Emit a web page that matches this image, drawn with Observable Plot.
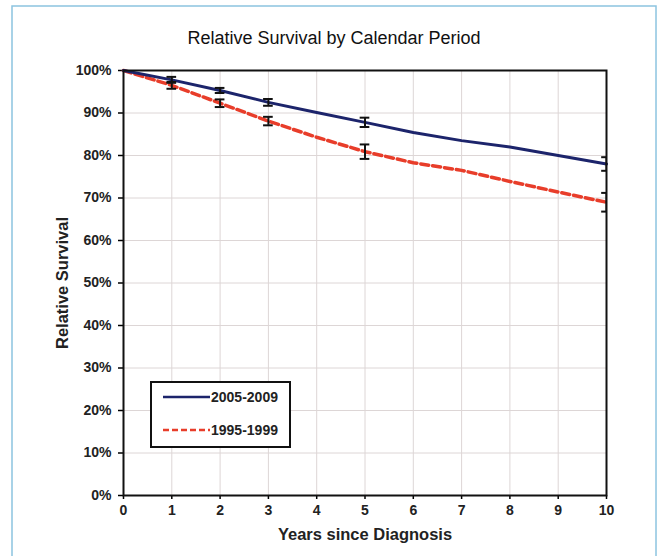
<!DOCTYPE html>
<html><head><meta charset="utf-8">
<script src="https://cdn.jsdelivr.net/npm/d3@7"></script>
<script src="https://cdn.jsdelivr.net/npm/@observablehq/plot@0.6"></script>
<style>
body{margin:0;background:#fff;font-family:"Liberation Sans",Arial,sans-serif;}
</style></head><body><div id="chart"></div>
<script>
const years = [0,1,2,3,4,5,6,7,8,9,10];
const recent = [100,97.8,95.3,92.5,90.1,87.8,85.4,83.5,82.0,80.0,78.0];
const older  = [100,96.5,92.3,88.1,84.3,80.9,78.3,76.5,73.9,71.4,69.0];
const errYears = [1,2,3,5,10];
const recentErr = [0.7,0.6,0.8,1.1,1.6];
const olderErr  = [0.8,0.9,1.0,1.7,2.2];
const seriesNames = ["2005-2009","1995-1999"];
const yTicks = [0,10,20,30,40,50,60,70,80,90,100];

const lineData = [
  ...years.map((x,i)=>({x, y:recent[i], s:seriesNames[0]})),
  ...years.map((x,i)=>({x, y:older[i], s:seriesNames[1]}))
];
const errData = [
  ...errYears.map((x,i)=>({x, y:recent[years.indexOf(x)], e:recentErr[i]})),
  ...errYears.map((x,i)=>({x, y:older[years.indexOf(x)], e:olderErr[i]}))
];
const font = '"Liberation Sans",Arial,sans-serif';
const capHalf = 0.1;

const plot = Plot.plot({
  width:658, height:556,
  marginLeft:123, marginRight:52, marginTop:70, marginBottom:61,
  style:{fontFamily:font, fontSize:"14px", background:"#fff", color:"#222"},
  x:{domain:[0,10]},
  y:{domain:[0,100]},
  marks:[
    Plot.gridX(years,{stroke:"#ddd6d6", strokeOpacity:1}),
    Plot.gridY(yTicks,{stroke:"#ddd6d6", strokeOpacity:1}),
    Plot.axisX(years,{tickSize:4, tickPadding:6, fontSize:14, fontWeight:"bold", label:"Years since Diagnosis", labelAnchor:"center", labelArrow:"none", labelOffset:44, stroke:"#000", strokeWidth:1.5}),
    Plot.axisY(yTicks,{tickSize:5, tickPadding:7, fontSize:14, fontWeight:"bold", tickFormat:d=>d+"%", label:"Relative Survival", labelAnchor:"center", labelArrow:"none", labelOffset:67, stroke:"#000", strokeWidth:1.5}),
    Plot.line(lineData.filter(d=>d.s===seriesNames[1]),{x:"x", y:"y", stroke:"#e83d2a", strokeWidth:3.5, strokeDasharray:"8,4"}),
    Plot.line(lineData.filter(d=>d.s===seriesNames[0]),{x:"x", y:"y", stroke:"#1c246b", strokeWidth:3}),
    Plot.ruleX(errData,{x:"x", y1:d=>d.y-d.e, y2:d=>d.y+d.e, stroke:"#111", strokeWidth:2, clip:true}),
    Plot.ruleY(errData,{y:d=>d.y-d.e, x1:d=>d.x-capHalf, x2:d=>d.x+capHalf, stroke:"#111", strokeWidth:2, clip:true}),
    Plot.ruleY(errData,{y:d=>d.y+d.e, x1:d=>d.x-capHalf, x2:d=>d.x+capHalf, stroke:"#111", strokeWidth:2, clip:true}),
    Plot.frame({stroke:"#111", strokeWidth:2})
  ]
});

const svg = d3.select(plot);
svg.selectAll('g[aria-label="x-axis label"], g[aria-label="y-axis label"]')
  .attr("font-size",16.5).attr("font-weight","bold").attr("fill","#222");
// outer light blue border
svg.insert("rect",":first-child").attr("x",12).attr("y",6).attr("width",644).attr("height",600)
  .attr("fill","#fff").attr("stroke","#8cc4e0").attr("stroke-width",1.5);
// title
svg.append("text").attr("x",334).attr("y",44).attr("text-anchor","middle")
  .attr("font-size",18).attr("font-family",font).attr("fill","#111")
  .text("Relative Survival by Calendar Period");
// legend
const lg = svg.append("g");
lg.append("rect").attr("x",151).attr("y",382).attr("width",139).attr("height",65)
  .attr("fill","#fff").attr("stroke","#111").attr("stroke-width",2);
const styles = [{c:"#1c246b", d:null, w:2.5},{c:"#e83d2a", d:"6,3", w:2.5}];
seriesNames.forEach((n,i)=>{
  const y = 397 + i*33;
  lg.append("line").attr("x1",163).attr("x2",210).attr("y1",y).attr("y2",y)
    .attr("stroke",styles[i].c).attr("stroke-width",styles[i].w)
    .attr("stroke-dasharray",styles[i].d);
  lg.append("text").attr("x",211).attr("y",y+5).attr("text-anchor","start")
    .attr("font-size",14).attr("font-weight","bold")
    .attr("font-family",font).attr("fill","#222").text(n);
});
document.getElementById("chart").appendChild(plot);
</script></body></html>
